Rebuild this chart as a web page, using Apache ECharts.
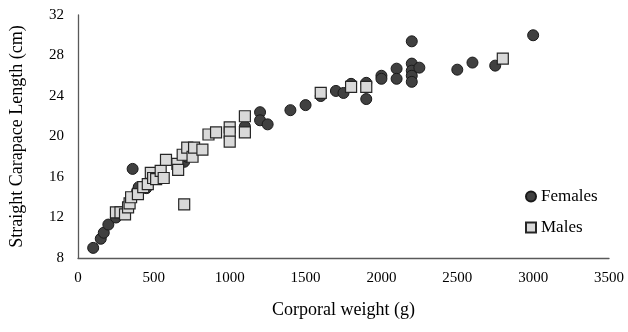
<!DOCTYPE html>
<html>
<head>
<meta charset="utf-8">
<script src="https://cdn.jsdelivr.net/npm/echarts@6/dist/echarts.min.js"></script>
<style>html,body{margin:0;padding:0;background:#fff;}#c{width:628px;height:332px;}</style>
</head>
<body>
<div id="c"></div>
<script>
var femalesWeight = [100,150,170,200,250,360,390,450,400,550,700,720,1100,1200,1200,1250,1400,1500,1600,1700,1750,1800,1900,1900,2000,2000,2100,2100,2200,2200,2200,2200,2200,2250,2500,2600,2750,3000];
var femalesSCL    = [9.0,9.9,10.5,11.3,12.0,16.8,14.6,14.9,15.0,16.2,17.5,18.0,21.0,22.4,21.6,21.2,22.6,23.1,24.0,24.5,24.3,25.2,25.3,23.7,26.0,25.7,26.7,25.7,29.4,27.2,26.5,26.0,25.4,26.8,26.6,27.3,27.0,30.0];
var malesWeight = [250,280,310,330,340,350,395,430,460,480,495,515,545,565,580,655,660,690,700,720,755,765,820,860,910,1000,1000,1000,1100,1100,1600,1800,1900,2800];
var malesSCL    = [12.5,12.5,12.3,13.0,13.4,14.0,14.3,15.0,15.3,16.4,15.9,15.8,16.6,15.9,17.7,17.3,16.7,18.2,13.3,18.9,18.0,18.9,18.7,20.2,20.4,20.9,20.4,19.5,22.0,20.4,24.3,24.9,24.9,27.7];
var seriesNames = ['Females','Males'];
var xTitle = 'Corporal weight (g)';
var yTitle = 'Straight Carapace Length (cm)';

function pairs(xs, ys){ return xs.map(function(x,i){ return [x, ys[i]]; }); }
var font = 'Liberation Serif';
var chart = echarts.init(document.getElementById('c'), null, {renderer:'canvas'});
chart.setOption({
  animation:false,
  backgroundColor:'#fff',
  textStyle:{fontFamily:font},
  grid:{left:77, right:19, top:15, bottom:74, containLabel:false},
  legend:{
    orient:'vertical', left:525, top:188, padding:0, itemGap:14, itemWidth:10, itemHeight:10,
    textStyle:{fontFamily:font, fontSize:17, color:'#000'},
    data:[{name:seriesNames[0], icon:'circle'},{name:seriesNames[1], icon:'rect'}]
  },
  xAxis:{
    type:'value', min:0, max:3500, interval:500,
    name:xTitle, nameLocation:'middle', nameGap:43,
    nameTextStyle:{fontFamily:font, fontSize:18, color:'#000'},
    axisLine:{show:true, lineStyle:{color:'#595959', width:1.3}},
    axisTick:{show:false}, splitLine:{show:false},
    axisLabel:{fontFamily:font, fontSize:15, color:'#000', margin:13, formatter:function(v){return String(v);}}
  },
  yAxis:{
    type:'value', min:8, max:32, interval:4,
    name:yTitle, nameLocation:'middle', nameGap:52,
    nameTextStyle:{fontFamily:font, fontSize:18, color:'#000'},
    axisLine:{show:true, lineStyle:{color:'#595959', width:1.3}},
    axisTick:{show:false}, splitLine:{show:false},
    axisLabel:{fontFamily:font, fontSize:15, color:'#000', margin:14}
  },
  series:[
    {name:seriesNames[0], type:'scatter', symbol:'circle', symbolSize:11,
     itemStyle:{color:'#404040', borderColor:'#1a1a1a', borderWidth:1, opacity:1},
     data:pairs(femalesWeight, femalesSCL)},
    {name:seriesNames[1], type:'scatter', symbol:'rect', symbolSize:11,
     itemStyle:{color:'#d9d9d9', borderColor:'#262626', borderWidth:1.2, opacity:1},
     data:pairs(malesWeight, malesSCL)}
  ]
});
</script>
</body>
</html>
